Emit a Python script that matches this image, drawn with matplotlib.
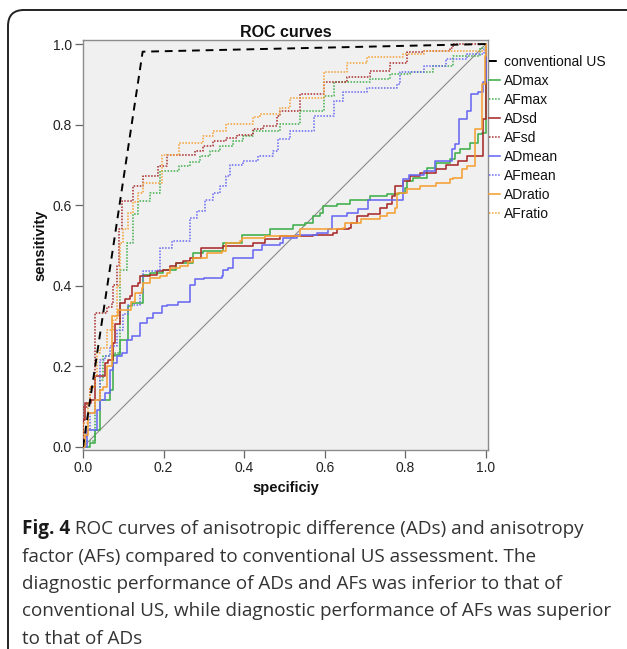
import matplotlib
matplotlib.use("Agg")
import matplotlib.pyplot as plt
from matplotlib.patches import FancyBboxPatch
from matplotlib.transforms import IdentityTransform

# ---------------- data ----------------
series_names = ["conventional US", "ADmax", "AFmax", "ADsd", "AFsd",
                "ADmean", "AFmean", "ADratio", "AFratio"]

us_x = [0.0, 0.148, 1.0]
us_y = [0.0, 0.981, 1.0]

admax_x = [0, 0.017, 0.03, 0.042, 0.067, 0.075, 0.092, 0.112, 0.121, 0.149, 0.166, 0.199, 0.232,
           0.274, 0.299, 0.348, 0.394, 0.464, 0.522, 0.55, 0.571, 0.588, 0.596, 0.63, 0.663, 0.712,
           0.754, 0.783, 0.80, 0.803, 0.82, 0.853, 0.877, 0.91, 0.923, 0.935, 0.96, 0.981, 0.99,
           1.0, 1.0]
admax_y = [0, 0.01, 0.042, 0.117, 0.142, 0.229, 0.266, 0.349, 0.357, 0.428, 0.432, 0.44, 0.457,
           0.482, 0.486, 0.507, 0.527, 0.54, 0.552, 0.556, 0.573, 0.581, 0.598, 0.602, 0.614, 0.623,
           0.627, 0.631, 0.643, 0.66, 0.668, 0.692, 0.705, 0.714, 0.73, 0.739, 0.755, 0.776, 0.78,
           0.8, 1.0]

afmax_x = [0, 0.005, 0.03, 0.042, 0.05, 0.079, 0.092, 0.108, 0.125, 0.137, 0.166, 0.191, 0.237,
           0.265, 0.29, 0.315, 0.34, 0.373, 0.398, 0.423, 0.489, 0.538, 0.597, 0.622, 0.712, 0.762,
           0.811, 0.869, 0.919, 0.985, 1.0]
afmax_y = [0, 0.016, 0.117, 0.167, 0.225, 0.233, 0.44, 0.506, 0.577, 0.61, 0.631, 0.685, 0.697,
           0.706, 0.722, 0.735, 0.747, 0.759, 0.772, 0.785, 0.801, 0.834, 0.871, 0.905, 0.913, 0.926,
           0.93, 0.946, 0.971, 0.991, 1.0]

adsd_x = [0, 0, 0.005, 0.02, 0.03, 0.054, 0.063, 0.075, 0.079, 0.092, 0.104, 0.117, 0.121, 0.137,
          0.141, 0.166, 0.183, 0.199, 0.216, 0.232, 0.249, 0.265, 0.294, 0.348, 0.423, 0.452,
          0.489, 0.571, 0.621, 0.63, 0.659, 0.665, 0.679, 0.708, 0.737, 0.754, 0.766, 0.774, 0.795,
          0.811, 0.836, 0.877, 0.902, 0.93, 0.952, 0.993, 1.0, 1.0]
adsd_y = [0, 0.067, 0.109, 0.117, 0.175, 0.208, 0.217, 0.258, 0.304, 0.357, 0.366, 0.374, 0.399,
          0.407, 0.424, 0.428, 0.436, 0.44, 0.449, 0.457, 0.461, 0.469, 0.494, 0.498, 0.507, 0.515,
          0.523, 0.527, 0.531, 0.54, 0.544, 0.556, 0.573, 0.577, 0.594, 0.602, 0.623, 0.648, 0.66,
          0.672, 0.68, 0.689, 0.701, 0.71, 0.722, 0.814, 0.826, 1.0]

afsd_x = [0, 0, 0.01, 0.017, 0.03, 0.03, 0.059, 0.071, 0.075, 0.084, 0.09, 0.098, 0.125, 0.149,
          0.187, 0.208, 0.278, 0.299, 0.323, 0.356, 0.381, 0.423, 0.447, 0.481, 0.489, 0.538,
          0.597, 0.654, 0.712, 0.762, 0.803, 0.845, 0.911, 0.919, 1.0]
afsd_y = [0, 0.1, 0.109, 0.15, 0.184, 0.333, 0.348, 0.357, 0.403, 0.45, 0.54, 0.61, 0.648, 0.672,
          0.697, 0.724, 0.735, 0.747, 0.759, 0.768, 0.774, 0.789, 0.797, 0.822, 0.834, 0.876,
          0.905, 0.917, 0.934, 0.954, 0.979, 0.983, 0.991, 1.0, 1.0]

admean_x = [0, 0.009, 0.009, 0.034, 0.042, 0.054, 0.067, 0.075, 0.084, 0.096, 0.108, 0.121, 0.141,
            0.158, 0.174, 0.195, 0.208, 0.236, 0.265, 0.278, 0.30, 0.344, 0.348, 0.36, 0.373,
            0.423, 0.443, 0.489, 0.497, 0.53, 0.58, 0.609, 0.617, 0.654, 0.683, 0.708, 0.795,
            0.81, 0.845, 0.873, 0.915, 0.923, 0.934, 0.952, 0.964, 0.981, 0.992, 1.0]
admean_y = [0, 0.016, 0.042, 0.092, 0.117, 0.134, 0.192, 0.208, 0.225, 0.233, 0.266, 0.275, 0.308,
            0.32, 0.333, 0.349, 0.353, 0.361, 0.403, 0.416, 0.42, 0.424, 0.44, 0.445, 0.469,
            0.49, 0.502, 0.506, 0.518, 0.527, 0.532, 0.54, 0.573, 0.581, 0.59, 0.614, 0.664,
            0.675, 0.685, 0.71, 0.739, 0.751, 0.814, 0.834, 0.876, 0.88, 0.905, 1.0]

afmean_x = [0, 0, 0.009, 0.017, 0.03, 0.042, 0.054, 0.067, 0.084, 0.10, 0.112, 0.141, 0.149,
            0.187, 0.191, 0.22, 0.265, 0.265, 0.282, 0.303, 0.323, 0.34, 0.356, 0.365, 0.398,
            0.435, 0.472, 0.485, 0.514, 0.572, 0.622, 0.646, 0.704, 0.778, 0.787, 0.845, 0.902,
            0.952, 0.994, 1.0]
afmean_y = [0, 0.025, 0.042, 0.084, 0.117, 0.216, 0.225, 0.25, 0.291, 0.33, 0.353, 0.382, 0.437,
            0.44, 0.494, 0.511, 0.527, 0.569, 0.585, 0.614, 0.631, 0.648, 0.672, 0.701, 0.709,
            0.722, 0.735, 0.764, 0.785, 0.822, 0.859, 0.88, 0.892, 0.901, 0.93, 0.946, 0.963,
            0.975, 0.988, 1.0]

adratio_x = [0, 0.005, 0.013, 0.03, 0.042, 0.05, 0.059, 0.071, 0.071, 0.087, 0.12, 0.129, 0.146,
             0.15, 0.166, 0.191, 0.208, 0.216, 0.241, 0.26, 0.274, 0.307, 0.344, 0.356, 0.39,
             0.394, 0.452, 0.538, 0.646, 0.65, 0.69, 0.737, 0.754, 0.775, 0.779, 0.803, 0.836,
             0.877, 0.91, 0.919, 0.94, 0.952, 0.972, 0.989, 0.997, 1.0]
adratio_y = [0, 0.03, 0.084, 0.117, 0.142, 0.15, 0.2, 0.233, 0.324, 0.34, 0.36, 0.382, 0.395,
             0.407, 0.419, 0.424, 0.432, 0.444, 0.449, 0.458, 0.469, 0.482, 0.486, 0.507, 0.511,
             0.519, 0.523, 0.54, 0.544, 0.556, 0.565, 0.573, 0.581, 0.594, 0.631, 0.639, 0.648,
             0.656, 0.664, 0.668, 0.689, 0.697, 0.789, 0.9, 0.97, 1.0]

afratio_x = [0, 0, 0.013, 0.017, 0.03, 0.034, 0.042, 0.059, 0.075, 0.085, 0.092, 0.1, 0.112,
             0.125, 0.137, 0.149, 0.195, 0.237, 0.299, 0.323, 0.356, 0.423, 0.439, 0.489, 0.514,
             0.597, 0.654, 0.704, 0.795, 0.845, 0.977, 1.0]
afratio_y = [0, 0.06, 0.109, 0.15, 0.175, 0.233, 0.245, 0.291, 0.316, 0.40, 0.506, 0.54, 0.581,
             0.609, 0.631, 0.656, 0.724, 0.755, 0.772, 0.785, 0.801, 0.818, 0.826, 0.842, 0.867,
             0.93, 0.954, 0.967, 0.975, 0.983, 0.983, 1.0]

x_ticks = [0.0, 0.2, 0.4, 0.6, 0.8, 1.0]
y_ticks = [0.0, 0.2, 0.4, 0.6, 0.8, 1.0]
tick_labels = ["0.0", "0.2", "0.4", "0.6", "0.8", "1.0"]

title_text = "ROC curves"
x_label = "specificiy"
y_label = "sensitivity"
caption_bold = "Fig. 4"
caption_lines = [
    " ROC curves of anisotropic difference (ADs) and anisotropy",
    "factor (AFs) compared to conventional US assessment. The",
    "diagnostic performance of ADs and AFs was inferior to that of",
    "conventional US, while diagnostic performance of AFs was superior",
    "to that of ADs",
]

# ---------------- styling ----------------
GREEN = "#3fae4a"
RED = "#a82a2a"
BLUE = "#6868f2"
ORANGE = "#f4a033"
DOT = (0, (1, 1))

plt.rcParams["font.family"] = ["Liberation Sans", "DejaVu Sans"]

W, H = 627, 649
fig = plt.figure(figsize=(W / 100, H / 100), dpi=100)
fig.patch.set_facecolor("white")

# rounded frame around the figure panel
frame = FancyBboxPatch((8, -40), 700, H - 10 + 40,
                       boxstyle="round,pad=0,rounding_size=16",
                       transform=IdentityTransform(), fill=False,
                       edgecolor="#222222", linewidth=1.4)
fig.add_artist(frame)

ax_l, ax_r, ax_t, ax_b = 83, 488, 40, 450
ax = fig.add_axes([ax_l / W, 1 - ax_b / H, (ax_r - ax_l) / W, (ax_b - ax_t) / H])
ax.set_facecolor("#f0f0f0")
ax.set_xlim(0, 1.005)
ax.set_ylim(-0.0075, 1.01)

# diagonal reference line
ax.plot([0, 1], [0, 1], color="#8a8a8a", lw=0.8, zorder=1)

solid_lw = 1.15
dot_lw = 1.1
ax.plot(admax_x, admax_y, drawstyle="steps-post", color=GREEN, lw=solid_lw, label="ADmax", zorder=3)
ax.plot(afmax_x, afmax_y, drawstyle="steps-post", color=GREEN, lw=dot_lw, ls=DOT, label="AFmax", zorder=3)
ax.plot(adsd_x, adsd_y, drawstyle="steps-post", color=RED, lw=solid_lw, label="ADsd", zorder=3)
ax.plot(afsd_x, afsd_y, drawstyle="steps-post", color=RED, lw=dot_lw, ls=DOT, label="AFsd", zorder=3)
ax.plot(admean_x, admean_y, drawstyle="steps-post", color=BLUE, lw=solid_lw, label="ADmean", zorder=3)
ax.plot(afmean_x, afmean_y, drawstyle="steps-post", color=BLUE, lw=dot_lw, ls=DOT, label="AFmean", zorder=3)
ax.plot(adratio_x, adratio_y, drawstyle="steps-post", color=ORANGE, lw=solid_lw, label="ADratio", zorder=3)
ax.plot(afratio_x, afratio_y, drawstyle="steps-post", color=ORANGE, lw=dot_lw, ls=DOT, label="AFratio", zorder=3)
ax.plot(us_x, us_y, color="black", lw=1.4, ls=(0, (4, 3)), label="conventional US", zorder=4)

for s in ax.spines.values():
    s.set_color("#8c8c8c")
    s.set_linewidth(1.0)

ax.set_xticks(x_ticks)
ax.set_xticklabels(tick_labels)
ax.set_yticks(y_ticks)
ax.set_yticklabels(tick_labels)
ax.tick_params(direction="out", length=6, width=0.9, color="#666666",
               labelsize=10, labelcolor="#222222", pad=2)

ax.set_title(title_text, fontsize=11.5, fontweight="bold", pad=1.5, color="#111111")
ax.set_xlabel(x_label, fontsize=10.5, fontweight="bold", labelpad=4, color="#111111")
ax.set_ylabel(y_label, fontsize=10.5, fontweight="bold", labelpad=4, color="#111111")

handles, labels = ax.get_legend_handles_labels()
order = [labels.index(n) for n in series_names]
leg = ax.legend([handles[i] for i in order], [labels[i] for i in order],
                loc="upper left", bbox_to_anchor=(489 / W, 1 - 55 / H),
                bbox_transform=fig.transFigure, frameon=False, fontsize=10,
                borderaxespad=0, borderpad=0, handlelength=0.8,
                handletextpad=0.3, labelspacing=0.36)
for t in leg.get_texts():
    t.set_color("#111111")

# caption
cap_font = ["Open Sans", "DejaVu Sans"]
cap_size = 13.6
x0 = 22 / W
base0 = 534
pitch = 27.5
fig.canvas.draw()
renderer = fig.canvas.get_renderer()
tb = fig.text(x0, 1 - base0 / H, caption_bold, fontsize=cap_size, fontweight="bold",
              family=cap_font, va="baseline", ha="left", color="#1a1a1a")
bb = tb.get_window_extent(renderer=renderer)
for i, line in enumerate(caption_lines):
    xx = (bb.x1 / W) if i == 0 else x0
    fig.text(xx, 1 - (base0 + i * pitch) / H, line, fontsize=cap_size,
             family=cap_font, va="baseline", ha="left", color="#333333")

fig.savefig("out.png", dpi=100)
